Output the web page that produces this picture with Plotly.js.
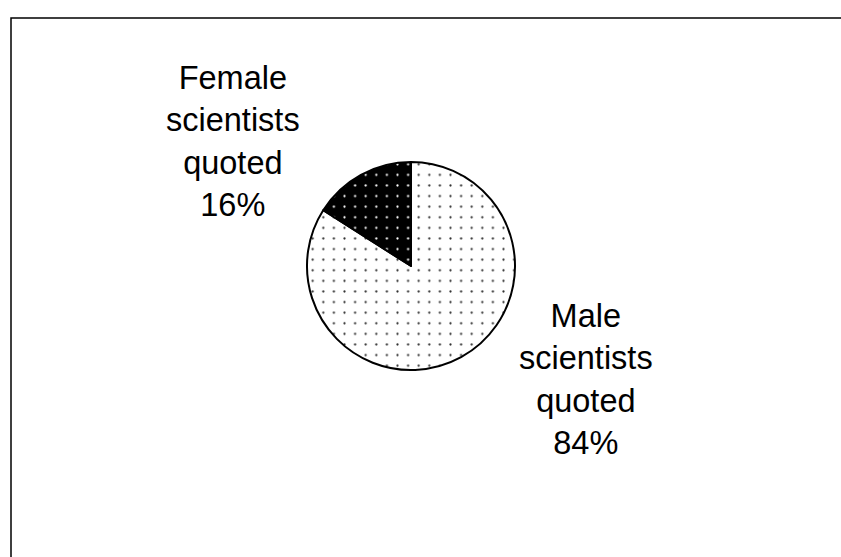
<!DOCTYPE html>
<html>
<head>
<meta charset="utf-8">
<script src="https://cdn.plot.ly/plotly-3.0.1.min.js"></script>
<style>html,body{margin:0;padding:0;background:#fff;}#chart{width:841px;height:557px;}</style>
</head>
<body>
<div id="chart"></div>
<script>
const categories = ["Male scientists quoted", "Female scientists quoted"];
const shares = [84, 16];
const labelLines = [["Male", "scientists", "quoted"], ["Female", "scientists", "quoted"]];

const W = 841, H = 557;
const cx = 411, cy = 266, r = 104;

const trace = {
  type: 'pie',
  labels: categories,
  values: shares,
  sort: false,
  direction: 'clockwise',
  rotation: 0,
  textinfo: 'none',
  hoverinfo: 'label+percent',
  showlegend: false,
  domain: {x: [(cx - r) / W, (cx + r) / W], y: [(H - cy - r) / H, (H - cy + r) / H]},
  marker: {
    colors: ['#ffffff', '#000000'],
    line: {color: '#000000', width: 2},
    pattern: {
      shape: ['.', '.'],
      fgcolor: ['#333333', '#ffffff'],
      bgcolor: ['#ffffff', '#000000'],
      size: 10.6,
      solidity: 0.035
    }
  }
};

const labelPos = [{x: 586, y: 379}, {x: 233, y: 141}];
const annotations = categories.map((c, i) => ({
  xref: 'paper', yref: 'paper',
  x: labelPos[i].x / W, y: 1 - labelPos[i].y / H,
  xanchor: 'center', yanchor: 'middle',
  text: labelLines[i].join('<br>') + '<br>' + shares[i] + '%',
  showarrow: false,
  align: 'center',
  font: {family: '"Liberation Sans", Arial, sans-serif', size: 32.5, color: '#000'}
}));

const layout = {
  width: W, height: H,
  margin: {l: 0, r: 0, t: 0, b: 0},
  paper_bgcolor: '#ffffff',
  plot_bgcolor: '#ffffff',
  annotations: annotations,
  shapes: [{
    type: 'rect', xref: 'paper', yref: 'paper',
    x0: 11 / W, x1: 1.02, y0: -0.02, y1: 1 - 18 / H,
    line: {color: '#000', width: 1.5}, fillcolor: 'rgba(0,0,0,0)'
  }]
};

Plotly.newPlot('chart', [trace], layout, {displayModeBar: false, staticPlot: true});
</script>
</body>
</html>
